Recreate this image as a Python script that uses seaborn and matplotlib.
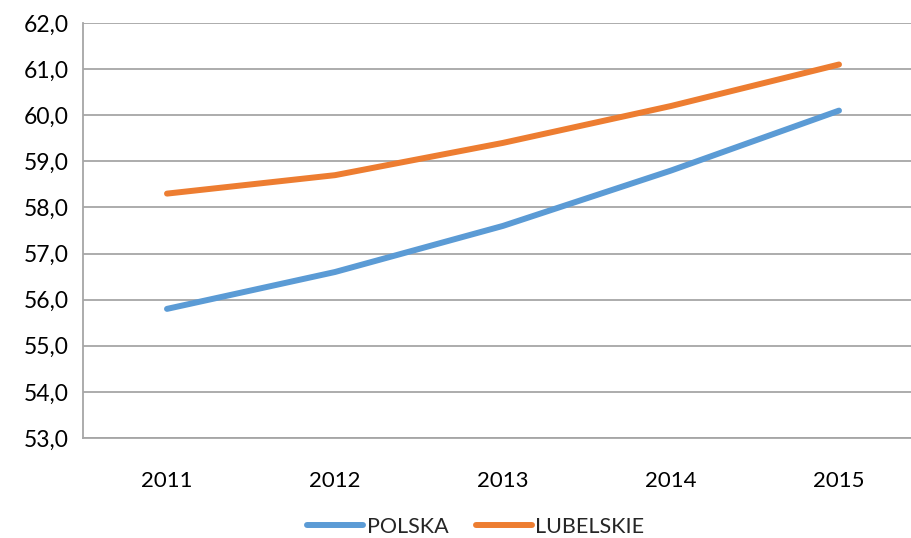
import matplotlib
matplotlib.use("Agg")
import matplotlib.pyplot as plt
import matplotlib.ticker as mticker
import seaborn as sns
import pandas as pd

years = ["2011", "2012", "2013", "2014", "2015"]
polska = [55.8, 56.6, 57.6, 58.8, 60.1]
lubelskie = [58.3, 58.7, 59.4, 60.2, 61.1]
series_names = ["POLSKA", "LUBELSKIE"]
colors = ["#5B9BD5", "#ED7D31"]

df = pd.DataFrame({
    "x": list(range(len(years))) * 2,
    "value": polska + lubelskie,
    "series": [series_names[0]] * len(years) + [series_names[1]] * len(years),
})

sns.set_theme(style="white")
plt.rcParams['font.family'] = ['Lato', 'DejaVu Sans']

fig = plt.figure(figsize=(9.12, 5.38), dpi=100)
ax = fig.add_axes([83/912, 1 - 438/538, 1 - 83/912, (438 - 23)/538])

sns.lineplot(data=df, x="x", y="value", hue="series", palette=colors,
             linewidth=4.3, ax=ax, solid_capstyle="round", legend=True)

ax.set_xlim(-0.5, (912 - 167) / 168)
ax.set_ylim(53, 62)
ax.yaxis.set_major_locator(mticker.MultipleLocator(1))
ax.yaxis.set_major_formatter(mticker.FuncFormatter(lambda v, p: f"{v:.1f}".replace(".", ",")))
ax.set_xticks(range(len(years)))
ax.set_xticklabels(years)
ax.set_xticks([-0.5, 0.5, 1.5, 2.5, 3.5], minor=True)
ax.tick_params(axis="x", which="major", length=0, pad=24, labelsize=16, colors="#000000")
ax.tick_params(axis="x", which="minor", length=6, width=1.2, color="#a6a6a6", direction="out")
ax.tick_params(axis="y", which="major", length=6, width=1.2, color="#a6a6a6", pad=4, labelsize=16.5, labelcolor="#000000")
ax.set_xlabel("")
ax.set_ylabel("")
ax.grid(axis="y", color="#a6a6a6", linewidth=1.3)
ax.set_axisbelow(True)
for s in ["top", "right"]:
    ax.spines[s].set_visible(False)
for s in ["left", "bottom"]:
    ax.spines[s].set_color("#a6a6a6")
    ax.spines[s].set_linewidth(1.3)

handles, labels = ax.get_legend_handles_labels()
for h in handles:
    h.set_linewidth(4.3)
    h.set_solid_capstyle("round")
leg = ax.legend(handles, labels, loc="center", bbox_to_anchor=(476 / 912, (538 - 527) / 538),
                bbox_transform=fig.transFigure, ncol=2, frameon=False,
                fontsize=15.5, handlelength=2.6, handletextpad=0.15, columnspacing=1.3,
                borderpad=0, borderaxespad=0)

fig.savefig("out.png", dpi=100)
